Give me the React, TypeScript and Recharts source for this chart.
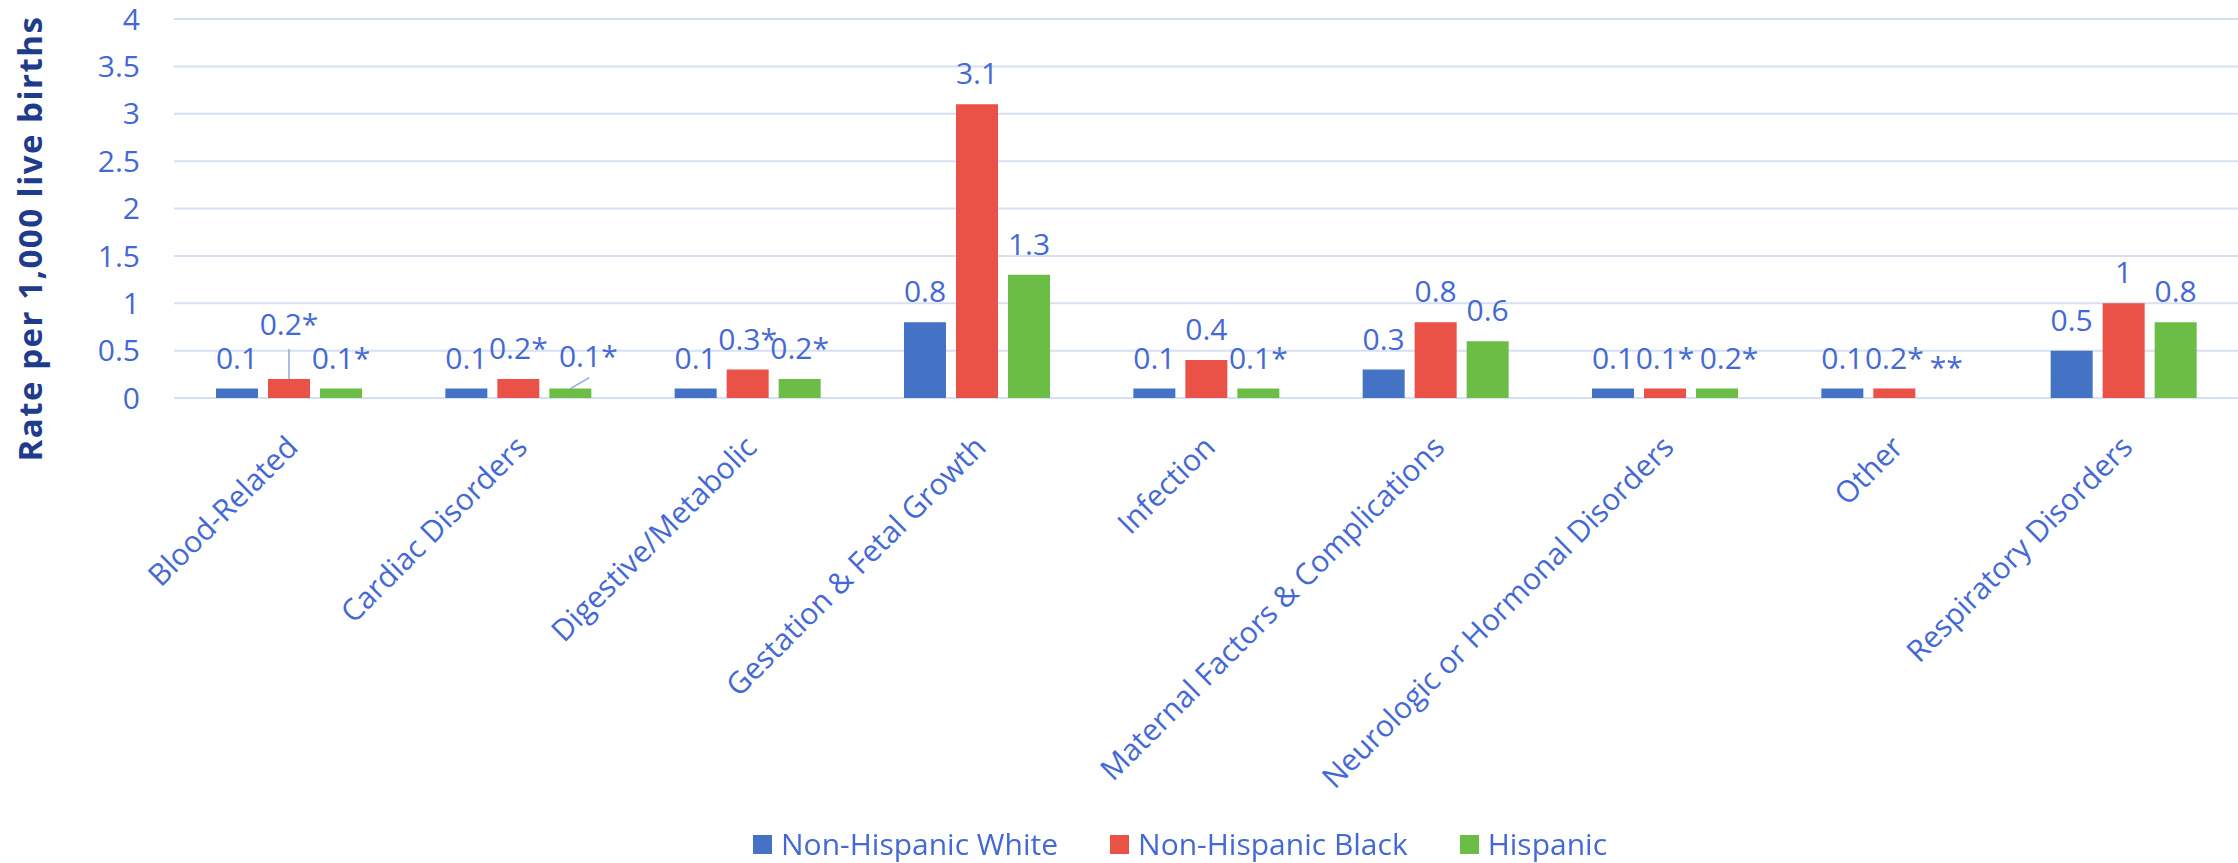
import React from 'react';
import { BarChart, Bar, XAxis, YAxis, CartesianGrid, Legend, LabelList } from 'recharts';

const categories = [
  'Blood-Related',
  'Cardiac Disorders',
  'Digestive/Metabolic',
  'Gestation & Fetal Growth',
  'Infection',
  'Maternal Factors & Complications',
  'Neurologic or Hormonal Disorders',
  'Other',
  'Respiratory Disorders',
];
const whiteRates = [0.1, 0.1, 0.1, 0.8, 0.1, 0.3, 0.1, 0.1, 0.5];
const blackRates = [0.2, 0.2, 0.3, 3.1, 0.4, 0.8, 0.1, 0.1, 1.0];
const hispanicRates = [0.1, 0.1, 0.2, 1.3, 0.1, 0.6, 0.1, 0, 0.8];
const whiteLabels = ['0.1', '0.1', '0.1', '0.8', '0.1', '0.3', '0.1', '0.1', '0.5'];
const blackLabels = ['0.2*', '0.2*', '0.3*', '3.1', '0.4', '0.8', '0.1*', '0.2*', '1'];
const hispanicLabels = ['0.1*', '0.1*', '0.2*', '1.3', '0.1*', '0.6', '0.2*', '**', '0.8'];
const yTicks = [0, 0.5, 1, 1.5, 2, 2.5, 3, 3.5, 4];
const seriesNames = ['Non-Hispanic White', 'Non-Hispanic Black', 'Hispanic'];

const data = categories.map((c, i) => ({
  category: c,
  white: whiteRates[i],
  black: blackRates[i],
  hispanic: hispanicRates[i],
  whiteLabel: `white|${i}|${whiteLabels[i]}`,
  blackLabel: `black|${i}|${blackLabels[i]}`,
  hispanicLabel: `hispanic|${i}|${hispanicLabels[i]}`,
}));

const FONT = "'Open Sans', 'Noto Sans', sans-serif";
const TEXT = '#4469D4';
const TITLE = '#1F3C8C';
const GRID = '#D7DFF2';
const COLORS = ['#4472C4', '#EA5247', '#6CBD45'];

// manual label nudges (Excel moved labels); optional leader line end relative to bar top centre
const nudges: Record<string, { dx: number; dy: number; line?: [number, number] }> = {
  'black|0': { dx: 0, dy: -24, line: [0, -30] },
  'hispanic|1': { dx: 18, dy: -2, line: [19, -11] },
  'hispanic|6': { dx: 12, dy: 0 },
};

// keep zero-valued bars in the layout (invisible) so their data labels ("**") are drawn
const keepZero = (value: any) => (Number(Array.isArray(value) ? value[1] : value) === 0 ? 0.01 : 0);

const renderLabel = (props: any) => {
  const { x, y, width, height, value } = props;
  const [key, idx, text] = String(value).split('|');
  const cx = Number(x) + Number(width) / 2;
  const h = Number(height) || 0;
  const top = h < 0 ? Number(y) + h : Number(y);
  const n = nudges[`${key}|${idx}`];
  const dx = n ? n.dx : 0;
  const dy = n ? n.dy : 0;
  return (
    <g>
      {n && n.line && (
        <line x1={cx} y1={top} x2={cx + n.line[0]} y2={top + n.line[1]} stroke="#8FA6E3" strokeWidth={1.5} />
      )}
      <text x={cx + dx} y={top - 20 + dy} textAnchor="middle" fill={TEXT} fontSize={30} fontFamily={FONT}>
        {text}
      </text>
    </g>
  );
};

const XTick = (props: any) => {
  const { x, y, payload } = props;
  return (
    <g transform={`translate(${x + 11},${y + 51})`}>
      <text x={0} y={0} transform="rotate(-45)" textAnchor="end" fill={TEXT} fontSize={30} fontFamily={FONT}>
        {payload.value}
      </text>
    </g>
  );
};

const LegendContent = () => {
  const items = seriesNames.map((n, i) => ({ name: n, color: COLORS[i] }));
  return (
    <div style={{ display: 'flex', alignItems: 'center', fontFamily: FONT, fontSize: 30, color: TEXT, lineHeight: '30px' }}>
      {items.map((it, i) => (
        <div key={it.name} style={{ display: 'flex', alignItems: 'center', marginRight: i < 2 ? 52 : 0 }}>
          <div style={{ width: 19, height: 19, background: it.color, marginRight: 9 }} />
          <span>{it.name}</span>
        </div>
      ))}
    </div>
  );
};

export default function App() {
  return (
    <div style={{ position: 'fixed', left: 0, top: 0, width: 2238, height: 863, background: '#fff' }}>
      <BarChart
        width={2238}
        height={863}
        data={data}
        margin={{ top: 19, right: 0, bottom: 0, left: 0 }}
        barSize={42}
        barGap={10}
      >
        <CartesianGrid horizontal vertical={false} stroke={GRID} strokeWidth={2} />
        <XAxis
          dataKey="category"
          interval={0}
          axisLine={false}
          tickLine={false}
          tickSize={0}
          tickMargin={0}
          height={465}
          tick={<XTick />}
        />
        <YAxis
          domain={[0, 4]}
          ticks={yTicks}
          width={174}
          axisLine={false}
          tickLine={false}
          tickSize={0}
          tickMargin={34}
          tick={{ fill: TEXT, fontSize: 30, fontFamily: FONT }}
          label={{
            content: (p: any) => {
              const vb = p.viewBox || { y: 19, height: 379 };
              const cy = vb.y + vb.height / 2 + 30;
              return (
                <text
                  x={42}
                  y={cy}
                  transform={`rotate(-90, 42, ${cy})`}
                  textAnchor="middle"
                  fill={TITLE}
                  fontSize={33}
                  letterSpacing={1.5}
                  fontWeight="bold"
                  fontFamily={FONT}
                >
                  Rate per 1,000 live births
                </text>
              );
            },
          }}
        />
        <Legend
          layout="horizontal"
          verticalAlign="middle"
          align="center"
          content={<LegendContent />}
          wrapperStyle={{ top: 829, left: 753, width: 'auto', height: 30 }}
        />
        <Bar dataKey="white" name={seriesNames[0]} fill={COLORS[0]} isAnimationActive={false}>
          <LabelList dataKey="whiteLabel" content={renderLabel} />
        </Bar>
        <Bar dataKey="black" name={seriesNames[1]} fill={COLORS[1]} isAnimationActive={false}>
          <LabelList dataKey="blackLabel" content={renderLabel} />
        </Bar>
        <Bar
          dataKey="hispanic"
          name={seriesNames[2]}
          fill={COLORS[2]}
          minPointSize={keepZero}
          isAnimationActive={false}
        >
          <LabelList dataKey="hispanicLabel" content={renderLabel} />
        </Bar>
      </BarChart>
    </div>
  );
}
